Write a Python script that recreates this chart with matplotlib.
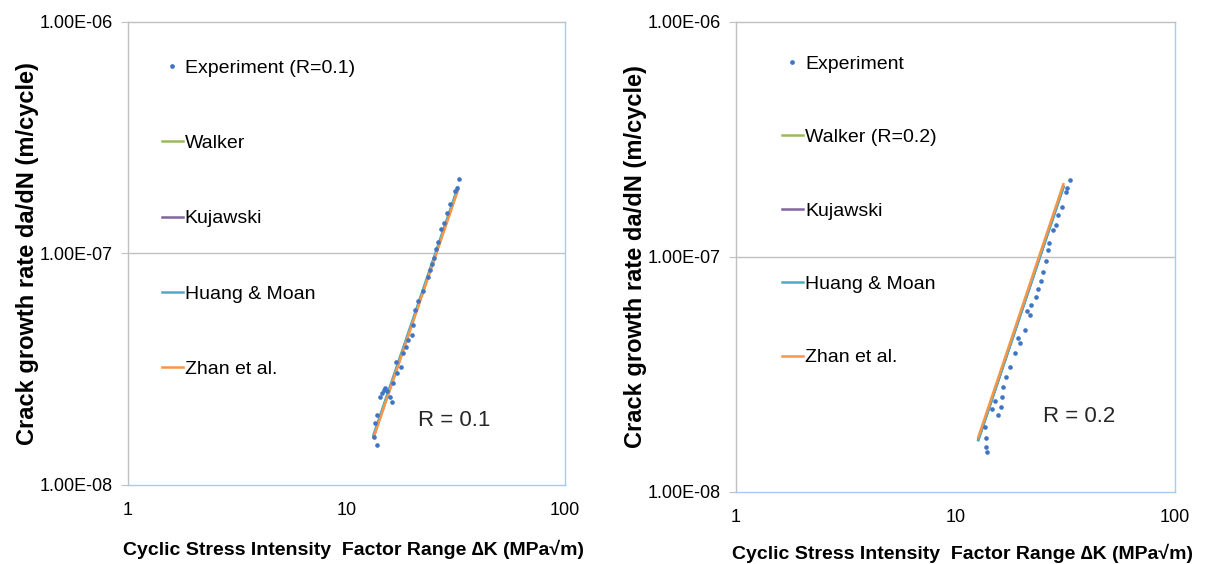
import matplotlib
matplotlib.use("Agg")
import matplotlib.pyplot as plt
from matplotlib.lines import Line2D

plt.rcParams['font.family'] = ['Liberation Sans', 'DejaVu Sans']

# ---- R = 0.1 ----
k_exp_1 = [32.7, 32.0, 31.4, 29.8, 28.8, 27.9, 27.1, 26.2, 25.7, 25.1, 24.6, 24.1,
           23.6, 21.2, 20.6, 19.9, 19.1, 18.7, 17.8, 17.0, 16.8, 16.3, 15.0, 14.5,
           14.2, 15.8, 16.2, 13.8, 13.5, 13.4, 13.8, 15.3, 18.2, 22.5, 20.2, 14.8]
dadn_exp_1 = [2.10e-7, 1.92e-7, 1.86e-7, 1.64e-7, 1.50e-7, 1.35e-7, 1.28e-7, 1.12e-7,
              1.05e-7, 9.56e-8, 9.01e-8, 8.48e-8, 7.91e-8, 6.23e-8, 5.70e-8, 4.44e-8,
              4.23e-8, 3.95e-8, 3.23e-8, 3.05e-8, 3.40e-8, 2.76e-8, 2.62e-8, 2.50e-8,
              2.40e-8, 2.40e-8, 2.28e-8, 2.01e-8, 1.85e-8, 1.61e-8, 1.49e-8, 2.55e-8,
              3.70e-8, 6.90e-8, 4.90e-8, 2.58e-8]
k_fit_1 = [13.3, 32.3]
walker_1 = [1.62e-8, 1.90e-7]
kujawski_1 = [1.62e-8, 1.90e-7]
huang_1 = [1.65e-8, 1.93e-7]
zhan_1 = [1.60e-8, 1.87e-7]

# ---- R = 0.2 ----
k_exp_2 = [33.2, 32.2, 32.0, 30.6, 29.3, 28.7, 27.8, 26.7, 26.4, 25.8, 25.0, 24.5,
           23.8, 23.3, 22.1, 21.8, 20.7, 19.7, 18.7, 17.7, 17.0, 16.5, 16.3, 16.1,
           15.6, 13.6, 13.8, 13.8, 13.9, 15.2, 14.6, 19.2, 21.2]
dadn_exp_2 = [2.13e-7, 1.97e-7, 1.89e-7, 1.63e-7, 1.51e-7, 1.37e-7, 1.30e-7, 1.15e-7,
              1.07e-7, 9.62e-8, 8.63e-8, 7.90e-8, 7.31e-8, 6.76e-8, 6.25e-8, 5.67e-8,
              4.89e-8, 4.31e-8, 3.90e-8, 3.40e-8, 3.09e-8, 2.80e-8, 2.54e-8, 2.30e-8,
              2.13e-8, 1.89e-8, 1.70e-8, 1.55e-8, 1.48e-8, 2.45e-8, 2.25e-8, 4.50e-8,
              5.90e-8]
k_fit_2 = [12.7, 31.0]
walker_2 = [1.67e-8, 1.99e-7]
kujawski_2 = [1.67e-8, 1.99e-7]
huang_2 = [1.66e-8, 1.97e-7]
zhan_2 = [1.71e-8, 2.04e-7]

x_ticks = [1, 10, 100]
x_tick_labels = ["1", "10", "100"]
y_ticks = [1e-8, 1e-7, 1e-6]
y_tick_labels = ["1.00E-08", "1.00E-07", "1.00E-06"]

C_EXP = "#3f75c2"
C_WALKER = "#9bbb59"
C_KUJ = "#8064a2"
C_HUANG = "#4bacc6"
C_ZHAN = "#f79646"
GRID = "#c0c0c0"
FRAME = "#a8cbea"

fig = plt.figure(figsize=(12.05, 5.64), dpi=100)
ax1 = fig.add_axes([0.1062, 0.1401, 0.3627, 0.8209])
ax2 = fig.add_axes([0.6108, 0.1277, 0.3643, 0.8333])


def draw_panel(ax, kx, ky, kfit, walker, kuj, huang, zhan, exp_label, walker_label,
               r_text, r_pos, leg_anchor, leg_spacing, xlabel_pad):
    ax.set_xscale('log')
    ax.set_yscale('log')
    ax.set_xlim(1, 100)
    ax.set_ylim(1e-8, 1e-6)
    ax.axhline(1e-7, color=GRID, lw=1.0, zorder=0)
    ax.plot(kfit, walker, color=C_WALKER, lw=1.8, zorder=2)
    ax.plot(kfit, kuj, color=C_KUJ, lw=1.8, zorder=2)
    ax.plot(kfit, huang, color=C_HUANG, lw=1.8, zorder=3)
    ax.plot(kfit, zhan, color=C_ZHAN, lw=1.8, zorder=4)
    ax.scatter(kx, ky, s=11, color=C_EXP, zorder=5, linewidths=0)

    ax.set_xticks(x_ticks)
    ax.set_xticklabels(x_tick_labels)
    ax.set_yticks(y_ticks)
    ax.set_yticklabels(y_tick_labels)
    ax.minorticks_off()
    ax.tick_params(axis='x', length=0, labelsize=13, pad=12)
    ax.tick_params(axis='y', length=5, color=GRID, labelsize=13, pad=6)

    ax.spines['left'].set_color(GRID)
    ax.spines['top'].set_color(GRID)
    ax.spines['right'].set_color(FRAME)
    ax.spines['bottom'].set_color(FRAME)
    for s in ax.spines.values():
        s.set_linewidth(1.0)

    ax.set_ylabel("Crack growth rate da/dN (m/cycle)", fontsize=17, fontweight='bold',
                  labelpad=0)
    ax.set_xlabel("Cyclic Stress Intensity  Factor Range \u2206K (MPa\u221am)",
                  fontsize=14, fontweight='bold', labelpad=xlabel_pad)
    ax.xaxis.label.set_x(0.516)

    ax.text(r_pos[0], r_pos[1], r_text, fontsize=16, ha='left', va='center',
            color="#262626")

    handles = [
        Line2D([], [], ls='none', marker='o', ms=2.4, color=C_EXP),
        Line2D([], [], color=C_WALKER, lw=1.8),
        Line2D([], [], color=C_KUJ, lw=1.8),
        Line2D([], [], color=C_HUANG, lw=1.8),
        Line2D([], [], color=C_ZHAN, lw=1.8),
    ]
    labels = [exp_label, walker_label, "Kujawski", "Huang & Moan", "Zhan et al."]
    ax.legend(handles, labels, loc='upper left', bbox_to_anchor=leg_anchor,
              frameon=False, fontsize=14, handlelength=1.1, handletextpad=0.1,
              labelspacing=leg_spacing, borderaxespad=0, numpoints=1)


draw_panel(ax1, k_exp_1, dadn_exp_1, k_fit_1, walker_1, kujawski_1, huang_1, zhan_1,
           "Experiment (R=0.1)", "Walker", "R = 0.1", (21.2, 1.9e-8), (0.059, 0.936),
           2.96, 15)
draw_panel(ax2, k_exp_2, dadn_exp_2, k_fit_2, walker_2, kujawski_2, huang_2, zhan_2,
           "Experiment", "Walker (R=0.2)", "R = 0.2", (25.0, 2.1e-8), (0.086, 0.946),
           2.87, 13)

fig.savefig("out.png", dpi=100, facecolor="white")
